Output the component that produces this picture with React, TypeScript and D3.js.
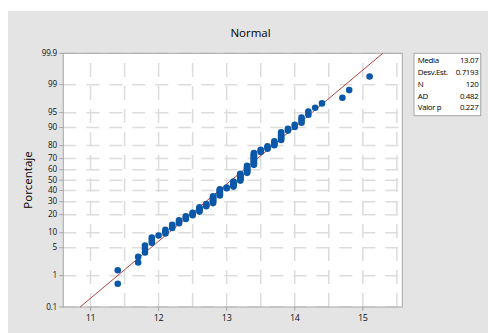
import React from "react";
import * as d3 from "d3";

// Distinct observed values (data rounded to 0.1) and how many observations sit at each one
const distinctValues = [11.4, 11.7, 11.8, 11.9, 12.0, 12.1, 12.2, 12.3, 12.4, 12.5, 12.6, 12.7, 12.8, 12.9, 13.0, 13.1, 13.2, 13.3, 13.4, 13.5, 13.6, 13.7, 13.8, 13.9, 14.0, 14.1, 14.2, 14.3, 14.4, 14.7, 14.8, 15.1];
const valueCounts = [2, 2, 3, 3, 1, 3, 3, 3, 3, 3, 5, 3, 8, 8, 2, 7, 9, 9, 13, 3, 3, 4, 6, 2, 2, 3, 2, 1, 1, 1, 1, 1];

const yTickPercents = [0.1, 1, 5, 10, 20, 30, 40, 50, 60, 70, 80, 90, 95, 99, 99.9];
const yTickLabels = ["0.1", "1", "5", "10", "20", "30", "40", "50", "60", "70", "80", "90", "95", "99", "99.9"];
const xTickValues = [11, 12, 13, 14, 15];
const xGridValues = [11, 11.5, 12, 12.5, 13, 13.5, 14, 14.5, 15, 15.5];

const statLabels = ["Media", "Desv.Est.", "N", "AD", "Valor p"];
const statValues = ["13.07", "0.7193", "120", "0.482", "0.227"];
const fitMean = 13.07;
const fitSd = 0.7193;

const chartTitle = "Normal";
const yAxisTitle = "Porcentaje";

// inverse standard normal CDF (Acklam)
function probit(p: number): number {
  const a = [-39.69683028665376, 220.9460984245205, -275.9285104469687, 138.357751867269, -30.66479806614716, 2.506628277459239];
  const b = [-54.47609879822406, 161.5858368580409, -155.6989798598866, 66.80131188771972, -13.28068155288572];
  const c = [-0.007784894002430293, -0.3223964580411365, -2.400758277161838, -2.549732539343734, 4.374664141464968, 2.938163982698783];
  const d = [0.007784695709041462, 0.3224671290700398, 2.445134137142996, 3.754408661907416];
  const pl = 0.02425;
  let q, r;
  if (p < pl) {
    q = Math.sqrt(-2 * Math.log(p));
    return (((((c[0] * q + c[1]) * q + c[2]) * q + c[3]) * q + c[4]) * q + c[5]) / ((((d[0] * q + d[1]) * q + d[2]) * q + d[3]) * q + 1);
  }
  if (p > 1 - pl) {
    q = Math.sqrt(-2 * Math.log(1 - p));
    return -(((((c[0] * q + c[1]) * q + c[2]) * q + c[3]) * q + c[4]) * q + c[5]) / ((((d[0] * q + d[1]) * q + d[2]) * q + d[3]) * q + 1);
  }
  q = p - 0.5;
  r = q * q;
  return ((((((a[0] * r + a[1]) * r + a[2]) * r + a[3]) * r + a[4]) * r + a[5]) * q) / (((((b[0] * r + b[1]) * r + b[2]) * r + b[3]) * r + b[4]) * r + 1);
}

const W = 488;
const H = 333;
const L = 63.3;
const R = 402.3;
const T = 53.3;
const B = 307;
const FONT = "'Open Sans', 'Noto Sans', sans-serif";

export default function App() {
  const x = d3.scaleLinear().domain([10.6, 15.58]).range([L, R]);
  const zScale = d3.scaleLinear().domain([probit(0.001), probit(0.999)]).range([B, T]);
  const yP = (pct: number) => zScale(probit(pct / 100));

  const obs: number[] = [];
  distinctValues.forEach((v, i) => {
    for (let k = 0; k < valueCounts[i]; k++) obs.push(v);
  });
  obs.sort((a, b) => a - b);
  const n = obs.length;
  const pts = obs.map((v, i) => ({ v, p: (i + 1 - 0.3) / (n + 0.4) }));

  const lineZ = [probit(0.001), probit(0.999)];
  const lineGen = d3
    .line<number>()
    .x((z) => x(fitMean + fitSd * z))
    .y((z) => zScale(z));

  const gridColor = "#dcdcdc";
  const axisColor = "#a6a6a6";

  return (
    <svg width={W} height={H} style={{ position: "absolute", left: 0, top: 0 }} fontFamily={FONT}>
      <rect x={8} y={11} width={W - 8} height={H - 11} fill="#e4e4e4" />
      <text x={250.5} y={37} textAnchor="middle" fontSize={11.5} fill="#000">
        {chartTitle}
      </text>
      <rect x={L} y={T} width={R - L} height={B - T} fill="#ffffff" />
      {/* grid */}
      {yTickPercents.map((p, i) => (
        <line key={"hg" + i} x1={L} x2={R} y1={yP(p)} y2={yP(p)} stroke={gridColor} strokeWidth={1.5} strokeDasharray="13,10" />
      ))}
      {xGridValues.map((v, i) => (
        <line key={"vg" + i} x1={x(v)} x2={x(v)} y1={B} y2={T} stroke={gridColor} strokeWidth={1.5} strokeDasharray="14,9" />
      ))}
      {/* border */}
      <rect x={L} y={T} width={R - L} height={B - T} fill="none" stroke={axisColor} strokeWidth={1} />
      {/* y ticks */}
      {yTickPercents.map((p, i) => (
        <g key={"yt" + i}>
          <line x1={L - 4} x2={L} y1={yP(p)} y2={yP(p)} stroke={axisColor} />
          <text x={56.8} y={yP(p)} dy="0.33em" textAnchor="end" fontSize={8.2} letterSpacing={-0.3} fill="#111">
            {yTickLabels[i]}
          </text>
        </g>
      ))}
      {/* x ticks */}
      {xTickValues.map((v, i) => (
        <g key={"xt" + i}>
          <line x1={x(v)} x2={x(v)} y1={B} y2={B + 4} stroke={axisColor} />
          <text x={x(v)} y={320.5} textAnchor="middle" fontSize={9} letterSpacing={-0.3} fill="#111">
            {String(v)}
          </text>
        </g>
      ))}
      <text
        transform={`translate(27.5,180) rotate(-90)`}
        textAnchor="middle"
        dy="0.35em"
        fontSize={11.5}
        fill="#000"
      >
        {yAxisTitle}
      </text>
      {/* fitted line */}
      <path d={lineGen(lineZ) || ""} fill="none" stroke="#b02a2a" strokeWidth={0.9} />
      {/* points */}
      {pts.map((d, i) => (
        <circle key={"pt" + i} cx={x(d.v)} cy={yP(d.p * 100)} r={3.3} fill="#0b57a8" />
      ))}
      {/* stats box */}
      <rect x={414} y={53.3} width={66.7} height={62.4} fill="#ffffff" stroke={axisColor} strokeWidth={1} />
      {statLabels.map((s, i) => (
        <g key={"st" + i}>
          <text x={417.8} y={60.5 + i * 11.8} dy="0.35em" fontSize={7.9} letterSpacing={-0.35} fill="#000">
            {s}
          </text>
          <text x={478.5} y={60.5 + i * 11.8} dy="0.35em" textAnchor="end" fontSize={7.9} letterSpacing={-0.3} fill="#000">
            {statValues[i]}
          </text>
        </g>
      ))}
    </svg>
  );
}
